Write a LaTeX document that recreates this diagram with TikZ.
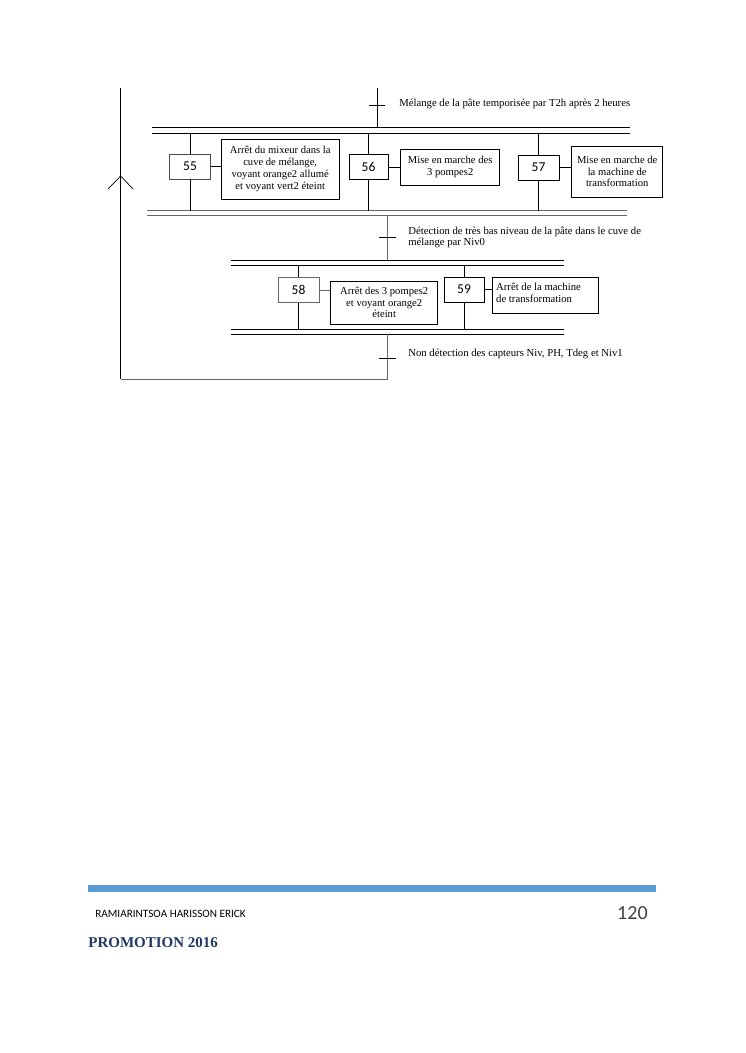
\documentclass[tikz,border=0pt]{standalone}
\usepackage{fontspec}
\setmainfont{Liberation Serif}
\newfontfamily\calibri{Carlito}
\usetikzlibrary{positioning}
\definecolor{barblue}{RGB}{91,155,213}
\definecolor{promoblue}{RGB}{31,56,100}
\tikzstyle{etape} = [rectangle, draw, minimum width=41pt, minimum height=25pt, inner sep=0pt, font=\calibri\fontsize{13.5}{15}\selectfont]
\tikzstyle{action} = [rectangle, draw, align=center, inner sep=1pt, font=\fontsize{10.6}{11.8}\selectfont]
\tikzstyle{recep} = [anchor=west, align=left, inner sep=0pt, font=\fontsize{10.7}{11.8}\selectfont]

\begin{document}
\begin{tikzpicture}[x=1pt, y=-1pt, line width=0.7pt]
        \useasboundingbox (0,0) rectangle (745,1053);

        % double barres
        \coordinate (D1a) at (152,127.7); \coordinate (D1b) at (630,127.7);
        \coordinate (D1c) at (152,133.3); \coordinate (D1d) at (630,133.3);
        \coordinate (C1a) at (147,210.5); \coordinate (C1b) at (627,210.5);
        \coordinate (C1c) at (147,215.3); \coordinate (C1d) at (627,215.3);
        \coordinate (D2a) at (231,260); \coordinate (D2b) at (564,260);
        \coordinate (D2c) at (231,265.3); \coordinate (D2d) at (564,265.3);
        \coordinate (C2a) at (231,329); \coordinate (C2b) at (564,329);
        \coordinate (C2c) at (231,334.3); \coordinate (C2d) at (564,334.3);
        \draw (D1a) -- (D1b);
        \draw (D1c) -- (D1d);
        \draw[black!60] (C1a) -- (C1b);
        \draw[black!60] (C1c) -- (C1d);
        \draw (D2a) -- (D2b);
        \draw (D2c) -- (D2d);
        \draw (C2a) -- (C2b);
        \draw (C2c) -- (C2d);

        % transitions
        \coordinate (T1) at (377,105);
        \coordinate (T1h) at (377,88);
        \coordinate (T2) at (387,237.5);
        \coordinate (T3) at (387,358);
        \coordinate (bas) at (387,379);
        \coordinate (gauche) at (120.7,379);
        \coordinate (hautg) at (120.7,88);
        \coordinate (fleche) at (120.7,176);

        \draw (T1h) -- (T1h |- D1a);
        \draw ([xshift=-8pt]T1) -- ([xshift=8pt]T1);
        \node[recep] at (399,104) (R1) {Mélange de la pâte temporisée par T2h après 2 heures};

        \draw[black!60] (T2 |- C1c) -- (T2 |- D2a);
        \draw ([xshift=-8.5pt]T2) -- ([xshift=9pt]T2);
        \node[recep] at (408,237.5) (R2) {Détection de très bas niveau de la pâte dans le cuve de\\mélange par Niv0};

        \draw[black!60] (T3 |- C2c) -- (bas) -- (gauche);
        \draw (gauche) -- (hautg);
        \draw ([xshift=-8.5pt]T3) -- ([xshift=9pt]T3);
        \node[recep] at (408,354) (R3) {Non détection des capteurs Niv, PH, Tdeg et Niv1};
        \draw ([shift={(-12.7pt,-13pt)}]fleche) -- (fleche) -- ([shift={(12.3pt,-13pt)}]fleche);

        % etapes 55 56 57
        \node at (190,166.5) [etape, draw=black!70] (E55) {55};
        \node [action, right=10pt of E55, yshift=-2.5pt, minimum width=118pt, minimum height=60pt] (A55) {Arrêt du mixeur dans la\\cuve de mélange,\\voyant orange2 allumé\\et voyant vert2 éteint};

        \node at (368.5,167) [etape, minimum width=39pt] (E56) {56};
        \node [action, right=12pt of E56, minimum width=99pt, minimum height=36pt] (A56) {Mise en marche des\\3 pompes2};

        \node at (538.5,167.5) [etape] (E57) {57};
        \node [action, right=12pt of E57, yshift=-4pt, minimum width=91pt, minimum height=51pt] (A57) {Mise en marche de\\la machine de\\transformation};

        \foreach \e in {E55,E56,E57}{
            \draw (\e.north |- D1c) -- (\e.north);
            \draw (\e.south) -- (\e.south |- C1a);
        }
        \draw (E55) -- (E55 -| A55.west);
        \draw (E56) -- (A56);
        \draw (E57) -- (E57 -| A57.west);

        % etapes 58 59
        \node at (298.5,290) [etape, draw=black!60] (E58) {58};
        \node [action, right=11pt of E58, yshift=-12.5pt, minimum width=107pt, minimum height=43pt] (A58) {Arrêt des 3 pompes2\\et voyant orange2\\éteint};

        \node at (464,289.5) [etape, minimum width=40pt] (E59) {59};
        \node [action, right=8pt of E59, yshift=-5.5pt, minimum width=106pt, minimum height=36pt] (A59) {};
        \node [recep, anchor=north west, inner xsep=3.5pt, inner ysep=6.5pt] at (A59.north west) (A59t) {Arrêt de la machine\\de transformation};

        \foreach \e in {E58,E59}{
            \draw (\e.north |- D2c) -- (\e.north);
            \draw (\e.south) -- (\e.south |- C2a);
        }
        \draw[black!60] (E58) -- (E58 -| A58.west);
        \draw (E59) -- (E59 -| A59.west);

        % pied de page
        \fill[barblue] (88,884.5) rectangle (656,891.5);
        \node[anchor=west, inner sep=0pt, font=\calibri\fontsize{11.2}{13}\selectfont] at (95,914) (auteur) {RAMIARINTSOA HARISSON ERICK};
        \node[anchor=east, inner sep=0pt, text=black!75, font=\calibri\fontsize{20}{24}\selectfont] at (648,913) (page) {120};
        \node[anchor=west, inner sep=0pt, text=promoblue, font=\bfseries\fontsize{15}{18}\selectfont] at (88,943) (promo) {PROMOTION 2016};

    \end{tikzpicture}
\end{document}
